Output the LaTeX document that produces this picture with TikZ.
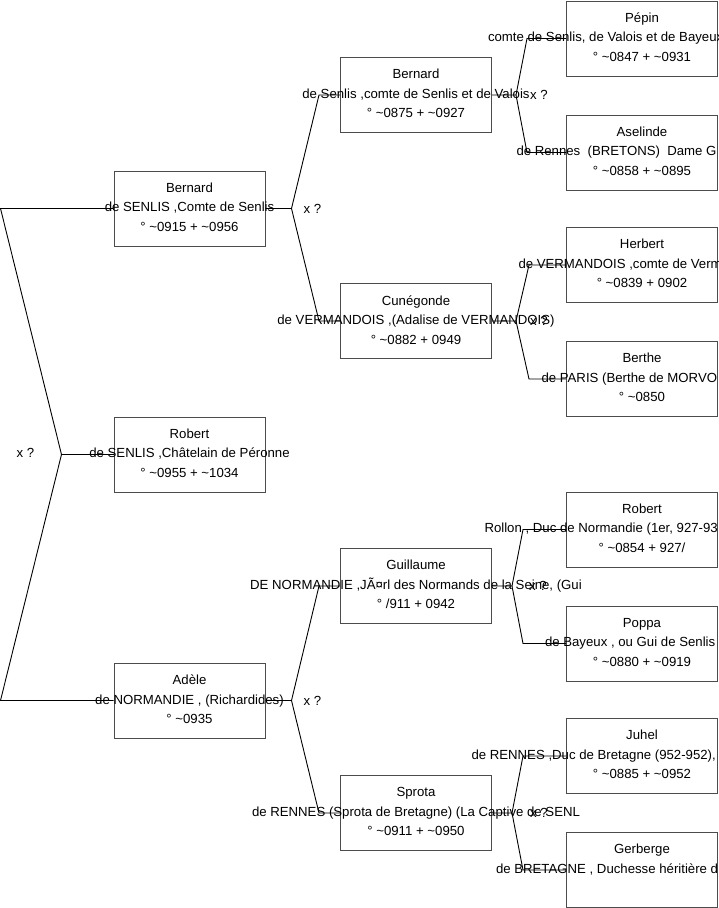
\documentclass[tikz,border=0pt]{standalone}
\usepackage{fontspec}
\setmainfont{Liberation Sans}
\usetikzlibrary{positioning,calc}
\definecolor{boxgrey}{gray}{0.3}
\newcommand\circa{\textasciitilde}
\newcommand\cutline[2]{\makebox[#1pt][l]{#2}}
\tikzset{
  person/.style={draw=boxgrey,line width=1pt,minimum width=151pt,minimum height=75pt,
                 inner sep=0pt},
  who/.style={font=\fontsize{13.2}{19.5}\selectfont,align=center,inner sep=0pt,
              yshift=1.3pt},
  tie/.style={line width=0.9pt},
  mar/.style={font=\fontsize{13.2}{16}\selectfont,inner sep=0pt},
}

\begin{document}
\begin{tikzpicture}[x=1pt,y=-1pt]
\clip (0,0) rectangle (719,908);

% first column
\node[person] (bernard) at (189.5,208.5) {};
\node[person,below=170pt of bernard] (robert) {};
\node[person,below=170pt of robert] (adele) {};

% second column
\node[person] (bernardB) at (416,95) {};
\node[person] (cunegonde) at (416,321) {};
\node[person] (guillaume) at (416,586) {};
\node[person] (sprota) at (416,813) {};

% third column
\node[person] (pepin) at (642,38.5) {};
\node[person,below=38pt of pepin] (aselinde) {};
\node[person] (herbert) at (642,265) {};
\node[person,below=38pt of herbert] (berthe) {};
\node[person] (robertC) at (642,529.5) {};
\node[person,below=38pt of robertC] (poppa) {};
\node[person] (juhel) at (642,756) {};
\node[person,below=38pt of juhel] (gerberge) {};

\node[who] at (bernard) {Bernard\\de SENLIS ,Comte de Senlis\\° \circa0915 + \circa0956};
\node[who] at (robert) {Robert\\de SENLIS ,Châtelain de Péronne\\° \circa0955 + \circa1034};
\node[who] at (adele) {Adèle\\de NORMANDIE , (Richardides)\\° \circa0935};

\node[who] at (bernardB) {Bernard\\de Senlis ,comte de Senlis et de Valois\\° \circa0875 + \circa0927};
\node[who] at (cunegonde) {Cunégonde\\de VERMANDOIS ,(Adalise de VERMANDOIS)\\° \circa0882 + 0949};
\node[who] at (guillaume) {Guillaume\\DE NORMANDIE ,JÃ¤rl des Normands de la Seine, (Gui\\° /911 + 0942};
\node[who] at (sprota) {Sprota\\de RENNES (Sprota de Bretagne) (La Captive de SENL\\° \circa0911 + \circa0950};

\node[who] at (pepin) {Pépin\\\cutline{308}{comte de Senlis, de Valois et de Bayeux}\\° \circa0847 + \circa0931};
\node[who] at (aselinde) {Aselinde\\\cutline{251}{de Rennes\ \ (BRETONS)\ \ Dame G}\\° \circa0858 + \circa0895};
\node[who] at (herbert) {Herbert\\\cutline{247}{de VERMANDOIS ,comte de Verm}\\° \circa0839 + 0902};
\node[who] at (berthe) {Berthe\\\cutline{201}{de PARIS (Berthe de MORVO}\\° \circa0850};
\node[who] at (robertC) {Robert\\\cutline{315}{Rollon , Duc de Normandie (1er, 927-93}\\° \circa0854 + 927/};
\node[who] at (poppa) {Poppa\\\cutline{194}{de Bayeux , ou Gui de Senlis}\\° \circa0880 + \circa0919};
\node[who] at (juhel) {Juhel\\\cutline{341}{de RENNES ,Duc de Bretagne (952-952),}\\° \circa0885 + \circa0952};
\node[who] at (gerberge) {Gerberge\\\cutline{292}{de BRETAGNE , Duchesse héritière d}\\\mbox{}};

% parents of Robert
\draw[tie] (robert.west) -- ++(-52,0) coordinate (r0);
\draw[tie] (bernard.west) -- ++(-113,0) -- (r0) -- ($(adele.west)+(-113,0)$) -- (adele.west);
\node[mar] at ($(r0)+(-36,-2)$) {x ?};

% parents of the first column
\draw[tie] (bernard.east) -- ++(26,0) coordinate (j1)
      -- ($(bernardB.west)+(-21,0)$) -- (bernardB.west);
\draw[tie] (j1) -- ($(cunegonde.west)+(-21,0)$) -- (cunegonde.west);
\node[mar] at ($(j1)+(21,0)$) {x ?};

\draw[tie] (adele.east) -- ++(26,0) coordinate (j2)
      -- ($(guillaume.west)+(-21,0)$) -- (guillaume.west);
\draw[tie] (j2) -- ($(sprota.west)+(-21,0)$) -- (sprota.west);
\node[mar] at ($(j2)+(21,0)$) {x ?};

% parents of the second column
\draw[tie] (bernardB.east) -- ++(24,0) coordinate (k1)
      -- ($(pepin.west)+(-39,0)$) -- (pepin.west);
\draw[tie] (k1) -- ($(aselinde.west)+(-39,0)$) -- (aselinde.west);
\node[mar] at ($(k1)+(23,0)$) {x ?};

\draw[tie] (cunegonde.east) -- ++(24,0) coordinate (k2)
      -- ($(herbert.west)+(-37,0)$) -- (herbert.west);
\draw[tie] (k2) -- ($(berthe.west)+(-37,0)$) -- (berthe.west);
\node[mar] at ($(k2)+(23,0)$) {x ?};

\draw[tie] (guillaume.east) -- ++(20,0) coordinate (k3)
      -- ($(robertC.west)+(-43,0)$) -- (robertC.west);
\draw[tie] (k3) -- ($(poppa.west)+(-43,0)$) -- (poppa.west);
\node[mar] at ($(k3)+(26,0)$) {x ?};

\draw[tie] (sprota.east) -- ++(20,0) coordinate (k4)
      -- ($(juhel.west)+(-43,0)$) -- (juhel.west);
\draw[tie] (k4) -- ($(gerberge.west)+(-43,0)$) -- (gerberge.west);
\node[mar] at ($(k4)+(27,0)$) {x ?};

\end{tikzpicture}
\end{document}
